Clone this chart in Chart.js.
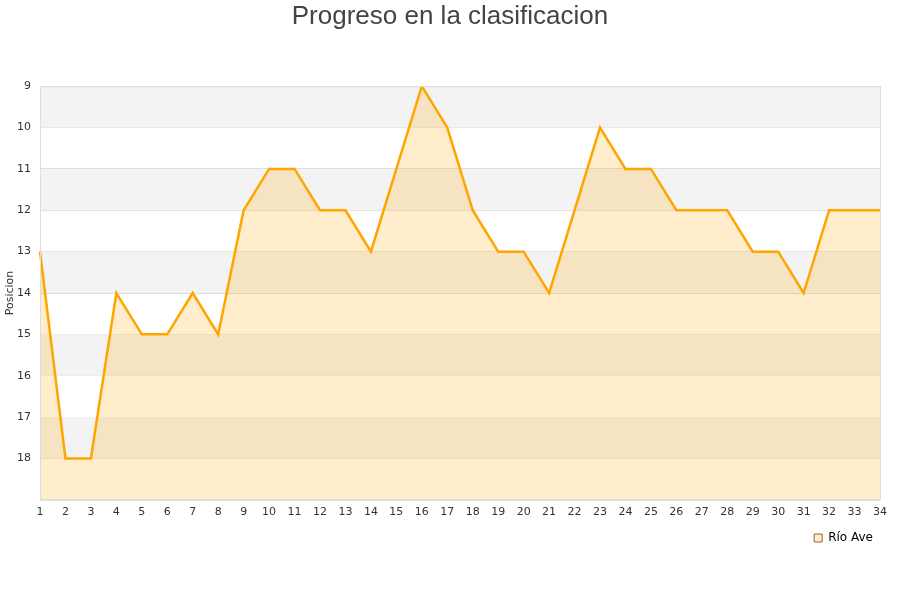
<!DOCTYPE html>
<html>
<head>
<meta charset="utf-8">
<script src="https://cdn.jsdelivr.net/npm/chart.js@4"></script>
<style>
  body { margin: 0; background: #fff; }
</style>
</head>
<body>
<canvas id="chart" width="900" height="600"></canvas>
<script>
const jornadas = ['1','2','3','4','5','6','7','8','9','10','11','12','13','14','15','16','17','18','19','20','21','22','23','24','25','26','27','28','29','30','31','32','33','34'];
const posiciones = [13, 18, 18, 14, 15, 15, 14, 15, 12, 11, 11, 12, 12, 13, 11, 9, 10, 12, 13, 13, 14, 12, 10, 11, 11, 12, 12, 12, 13, 13, 14, 12, 12, 12];
const bandasGrises = [9, 11, 13, 15, 17];
const titulo = 'Progreso en la clasificacion';

// alternating grey bands, frame around the plot area, centred title
const bandas = {
    id: 'bandas',
    beforeDatasetsDraw(chart) {
        const { ctx, chartArea, scales } = chart;
        ctx.save();
        ctx.fillStyle = '#f3f3f3';
        bandasGrises.forEach(v => {
            const y1 = scales.y.getPixelForValue(v);
            const y2 = scales.y.getPixelForValue(v + 1);
            ctx.fillRect(chartArea.left, y1, chartArea.right - chartArea.left, y2 - y1);
        });
        ctx.restore();
    },
    afterDraw(chart) {
        const { ctx, chartArea } = chart;
        ctx.save();
        ctx.strokeStyle = '#dddddd';
        ctx.lineWidth = 1;
        ctx.strokeRect(chartArea.left + 0.5, chartArea.top + 0.5, chartArea.right - chartArea.left, chartArea.bottom - chartArea.top);
        ctx.fillStyle = '#444444';
        ctx.font = '26px "Liberation Sans"';
        ctx.textAlign = 'center';
        ctx.textBaseline = 'middle';
        ctx.fillText(titulo, chart.width / 2, 17);
        ctx.restore();
    }
};

const ctx = document.getElementById('chart').getContext('2d');
new Chart(ctx, {
    type: 'line',
    data: {
        labels: jornadas,
        datasets: [{
            label: 'Río Ave',
            data: posiciones,
            borderColor: '#ffa500',
            backgroundColor: 'rgba(255, 165, 0, 0.2)',
            borderWidth: 2.5,
            pointRadius: 0,
            tension: 0,
            fill: 'start'
        }]
    },
    options: {
        responsive: false,
        animation: false,
        layout: { padding: { left: 2, right: 20, top: 0, bottom: 46 } },
        plugins: {
            title: {
                display: true,
                text: titulo,
                color: 'rgba(0,0,0,0)',
                font: { family: 'Liberation Sans', size: 26, weight: 'normal' },
                padding: { top: 2, bottom: 53 }
            },
            legend: {
                position: 'bottom',
                align: 'end',
                labels: {
                    color: '#222222',
                    font: { family: 'DejaVu Sans', size: 12 },
                    boxWidth: 8,
                    boxHeight: 8,
                    padding: 7,
                    generateLabels(chart) {
                        return [{
                            text: 'Río Ave',
                            fillStyle: 'rgba(255, 220, 160, 0.6)',
                            strokeStyle: '#8a6a3a',
                            lineWidth: 1,
                            datasetIndex: 0
                        }];
                    }
                }
            },
            tooltip: { enabled: false }
        },
        scales: {
            x: {
                offset: false,
                grid: { display: false, drawTicks: false },
                border: { display: false },
                ticks: { color: '#333333', font: { family: 'DejaVu Sans', size: 11 }, maxRotation: 0, autoSkip: false, padding: 6 }
            },
            y: {
                reverse: true,
                min: 9,
                max: 19,
                afterFit: s => { s.width = 38; },
                grid: { color: '#dddddd', drawTicks: false },
                border: { display: false },
                title: {
                    display: true,
                    text: 'Posicion',
                    color: '#333333',
                    font: { family: 'DejaVu Sans', size: 11 },
                    padding: { top: 2, bottom: 0 }
                },
                ticks: {
                    stepSize: 1,
                    color: '#333333',
                    font: { family: 'DejaVu Sans', size: 11 },
                    padding: 9,
                    callback: v => (v === 19 ? '' : v)
                }
            }
        }
    },
    plugins: [bandas]
});
</script>
</body>
</html>
